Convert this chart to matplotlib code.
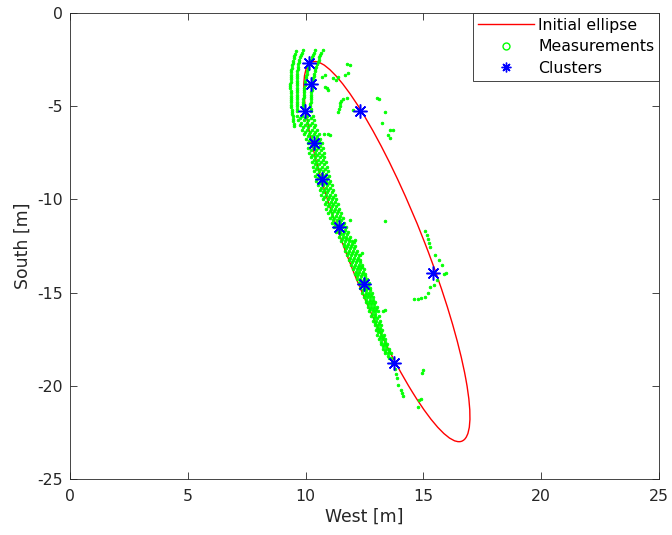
import matplotlib
matplotlib.use("Agg")
import matplotlib.pyplot as plt
from matplotlib.patches import Ellipse
from matplotlib.lines import Line2D

plt.rcParams['font.family'] = ['DejaVu Sans']
plt.rcParams['axes.unicode_minus'] = False

# initial ellipse (center, full axis lengths, rotation in degrees)
ellipse_center = (13.45, -12.8)
ellipse_width = 21.32
ellipse_height = 3.35
ellipse_angle = -72.86

# cluster centres
cluster_x = [10.16, 10.22, 9.97, 10.37, 10.68, 11.42, 12.49, 13.75, 12.31, 15.42]
cluster_y = [-2.67, -3.83, -5.26, -6.95, -8.88, -11.48, -14.55, -18.78, -5.26, -13.93]

# measurements: curved streaks at the top
arc_a = [(9.59, -2.05), (9.56, -2.18), (9.52, -2.30), (9.50, -2.43), (9.47, -2.55),
         (9.45, -2.68), (9.43, -2.80), (9.42, -2.93), (9.40, -3.05), (9.39, -3.18),
         (9.38, -3.30), (9.37, -3.43), (9.36, -3.55), (9.36, -3.68), (9.35, -3.80),
         (9.35, -3.93), (9.35, -4.05), (9.36, -4.18), (9.36, -4.30), (9.37, -4.43),
         (9.37, -4.55), (9.38, -4.68), (9.38, -4.80), (9.39, -4.93), (9.40, -5.05),
         (9.41, -5.18), (9.42, -5.30), (9.44, -5.43), (9.45, -5.55), (9.47, -5.68),
         (9.48, -5.80), (9.50, -5.93), (9.52, -6.05)]
arc_b = [(9.87, -2.00), (9.83, -2.13), (9.80, -2.25), (9.77, -2.38), (9.74, -2.50),
         (9.71, -2.63), (9.69, -2.75), (9.67, -2.88), (9.66, -3.00), (9.65, -3.13),
         (9.64, -3.25), (9.63, -3.38), (9.62, -3.50), (9.62, -3.63), (9.62, -3.75),
         (9.62, -3.88), (9.62, -4.00), (9.62, -4.13), (9.62, -4.25), (9.62, -4.38),
         (9.62, -4.50), (9.63, -4.63), (9.63, -4.75), (9.64, -4.88), (9.64, -5.00),
         (9.65, -5.13), (9.65, -5.25)]
arc_c = [(10.38, -2.00), (10.34, -2.13), (10.30, -2.25), (10.26, -2.38), (10.22, -2.50),
         (10.18, -2.63), (10.15, -2.75), (10.12, -2.88), (10.09, -3.00), (10.06, -3.13),
         (10.04, -3.25), (10.02, -3.38), (10.00, -3.50), (9.98, -3.63), (9.97, -3.75),
         (9.96, -3.88), (9.95, -4.00), (9.94, -4.13), (9.93, -4.25), (9.92, -4.38),
         (9.92, -4.50), (9.91, -4.63), (9.91, -4.75), (9.91, -4.88), (9.91, -5.00),
         (9.92, -5.13), (9.92, -5.25)]
arc_d = [(10.72, -2.00), (10.67, -2.13), (10.62, -2.25), (10.58, -2.38), (10.55, -2.50),
         (10.51, -2.63), (10.48, -2.75), (10.45, -2.88), (10.42, -3.00), (10.40, -3.13),
         (10.37, -3.25), (10.35, -3.38), (10.33, -3.50), (10.31, -3.63), (10.30, -3.75),
         (10.28, -3.88), (10.27, -4.00), (10.26, -4.13), (10.25, -4.25), (10.24, -4.38),
         (10.23, -4.50), (10.22, -4.63), (10.21, -4.75), (10.20, -4.88), (10.20, -5.00),
         (10.21, -5.13), (10.22, -5.25)]

# measurements: main band, one row of x values per y
band_rows = [
    (-5.500, [9.64, 9.86, 10.08, 10.30]),
    (-5.625, [9.76, 9.99, 10.22]),
    (-5.750, [9.69, 9.92, 10.12, 10.36]),
    (-5.875, [9.82, 10.05, 10.28]),
    (-6.000, [9.75, 9.97, 10.18, 10.41]),
    (-6.125, [9.89, 10.11, 10.34]),
    (-6.250, [9.83, 10.05, 10.26, 10.47]),
    (-6.375, [9.99, 10.20, 10.41]),
    (-6.500, [9.94, 10.15, 10.36, 10.56, 10.78, 10.95]),
    (-6.625, [10.09, 10.29, 10.50]),
    (-6.750, [10.03, 10.24, 10.43, 10.63]),
    (-6.875, [10.16, 10.36, 10.56]),
    (-7.000, [10.09, 10.30, 10.49, 10.69]),
    (-7.125, [10.21, 10.41, 10.61]),
    (-7.250, [10.12, 10.34, 10.53, 10.73]),
    (-7.375, [10.25, 10.45, 10.65]),
    (-7.500, [10.16, 10.38, 10.57, 10.77]),
    (-7.625, [10.29, 10.49, 10.69]),
    (-7.750, [10.21, 10.42, 10.60, 10.80]),
    (-7.875, [10.34, 10.53, 10.73]),
    (-8.000, [10.26, 10.46, 10.66, 10.85]),
    (-8.125, [10.38, 10.58, 10.78]),
    (-8.250, [10.30, 10.50, 10.70, 10.90]),
    (-8.375, [10.43, 10.62, 10.82]),
    (-8.500, [10.35, 10.55, 10.75, 10.94]),
    (-8.625, [10.48, 10.68, 10.87]),
    (-8.750, [10.40, 10.60, 10.80, 10.99]),
    (-8.875, [10.53, 10.73, 10.92]),
    (-9.000, [10.46, 10.66, 10.86, 11.05]),
    (-9.125, [10.60, 10.79, 10.98]),
    (-9.250, [10.53, 10.73, 10.91, 11.10]),
    (-9.375, [10.66, 10.85, 11.04]),
    (-9.500, [10.59, 10.79, 10.97, 11.16]),
    (-9.625, [10.73, 10.92, 11.10]),
    (-9.750, [10.66, 10.86, 11.04, 11.23]),
    (-9.875, [10.80, 10.99, 11.17]),
    (-10.000, [10.73, 10.93, 11.11, 11.30]),
    (-10.125, [10.87, 11.06, 11.24]),
    (-10.250, [10.81, 11.00, 11.18, 11.37]),
    (-10.375, [10.94, 11.13, 11.31]),
    (-10.500, [10.88, 11.07, 11.25, 11.43]),
    (-10.625, [11.02, 11.20, 11.38]),
    (-10.750, [10.96, 11.14, 11.32, 11.50]),
    (-10.875, [11.10, 11.28, 11.45]),
    (-11.000, [11.04, 11.22, 11.40, 11.57]),
    (-11.125, [11.18, 11.35, 11.52]),
    (-11.250, [11.13, 11.30, 11.48, 11.64]),
    (-11.375, [11.26, 11.43, 11.60]),
    (-11.500, [11.21, 11.38, 11.56, 11.72]),
    (-11.625, [11.35, 11.51, 11.68]),
    (-11.750, [11.31, 11.48, 11.64, 11.81]),
    (-11.875, [11.44, 11.60, 11.77]),
    (-12.000, [11.40, 11.57, 11.73, 11.90]),
    (-12.125, [11.53, 11.70, 11.86]),
    (-12.250, [11.51, 11.67, 11.83, 11.99]),
    (-12.375, [11.64, 11.80, 11.96]),
    (-12.500, [11.61, 11.77, 11.93, 12.09]),
    (-12.625, [11.73, 11.89, 12.05]),
    (-12.750, [11.69, 11.85, 12.01, 12.17]),
    (-12.875, [11.81, 11.97, 12.13]),
    (-13.000, [11.77, 11.93, 12.09, 12.25]),
    (-13.125, [11.89, 12.05, 12.21]),
    (-13.250, [11.85, 12.01, 12.17, 12.33]),
    (-13.375, [11.97, 12.13, 12.29]),
    (-13.500, [11.93, 12.09, 12.25, 12.41]),
    (-13.625, [12.05, 12.21, 12.36]),
    (-13.750, [12.01, 12.17, 12.32, 12.47]),
    (-13.875, [12.12, 12.28, 12.43]),
    (-14.000, [12.08, 12.24, 12.39, 12.54]),
    (-14.125, [12.20, 12.35, 12.50]),
    (-14.250, [12.17, 12.32, 12.46, 12.61]),
    (-14.375, [12.29, 12.43, 12.58]),
    (-14.500, [12.25, 12.40, 12.54, 12.69]),
    (-14.625, [12.37, 12.51, 12.65]),
    (-14.750, [12.33, 12.48, 12.61, 12.75]),
    (-14.875, [12.44, 12.58, 12.72]),
    (-15.000, [12.40, 12.55, 12.68, 12.82]),
    (-15.125, [12.51, 12.65, 12.78]),
    (-15.250, [12.48, 12.62, 12.75, 12.88]),
    (-15.375, [12.58, 12.72, 12.85]),
    (-15.500, [12.55, 12.69, 12.82, 12.95]),
    (-15.625, [12.66, 12.79, 12.92]),
    (-15.750, [12.63, 12.77, 12.89, 13.01]),
    (-15.875, [12.73, 12.86, 12.98]),
    (-16.000, [12.70, 12.84, 12.96, 13.06]),
    (-16.125, [12.82, 12.94]),
    (-16.250, [12.79, 12.95, 13.11]),
    (-16.375, [12.89, 13.05]),
    (-16.500, [12.86, 13.00, 13.14]),
    (-16.625, [12.96, 13.10]),
    (-16.750, [12.93, 13.06, 13.19]),
    (-16.875, [13.02, 13.16]),
    (-17.000, [12.99, 13.12, 13.25]),
    (-17.125, [13.08, 13.22]),
    (-17.250, [13.05, 13.18, 13.31]),
    (-17.375, [13.15, 13.29]),
    (-17.500, [13.11, 13.25, 13.39]),
    (-17.625, [13.21, 13.36]),
    (-17.750, [13.18, 13.32, 13.46]),
    (-17.875, [13.29, 13.43]),
    (-18.000, [13.28, 13.40, 13.52]),
    (-18.125, [13.38, 13.52]),
    (-18.250, [13.39, 13.50, 13.61]),
    (-18.375, [13.50]),
    (-18.500, [13.53, 13.64]),
    (-18.750, [13.68]),
]
band_tail = [(13.79, -19.10), (13.82, -19.35), (13.88, -19.60), (13.92, -19.95),
             (14.05, -20.25), (14.10, -20.40), (14.14, -20.55)]

# measurements: isolated returns
stray_top = [(10.70, -3.44), (10.82, -3.33), (11.16, -3.49), (11.38, -3.44), (11.30, -3.60),
             (11.67, -3.33), (11.80, -3.22), (11.88, -2.79), (11.76, -2.74), (10.82, -3.97),
             (10.95, -4.14), (10.91, -4.03), (11.59, -4.60), (11.76, -4.56), (11.50, -4.70),
             (11.48, -4.85), (11.44, -5.00), (11.40, -5.15), (11.38, -5.30), (12.01, -5.21),
             (13.03, -4.56), (13.12, -4.62), (13.37, -5.32), (13.24, -5.91), (13.58, -6.28),
             (13.70, -6.28), (13.50, -6.55), (13.58, -6.72), (11.04, -6.55)]
stray_mid = [(11.88, -11.12), (13.37, -11.17), (12.05, -12.30), (12.10, -12.19),
             (12.39, -12.89), (12.31, -13.00), (12.38, -13.60)]
stray_right = [(15.07, -11.70), (15.16, -11.90), (15.20, -12.10), (15.24, -12.32),
               (15.28, -12.55), (15.49, -13.00), (15.66, -13.27), (15.79, -13.53),
               (15.96, -13.96), (15.86, -14.02), (15.58, -14.34), (15.45, -14.58),
               (15.30, -14.72), (15.20, -15.02), (15.07, -15.22), (14.90, -15.30),
               (14.75, -15.33), (14.62, -15.36)]
stray_low = [(13.37, -15.95), (13.28, -16.00), (14.98, -19.17), (14.94, -19.30),
             (14.90, -20.70), (14.80, -20.78), (14.77, -21.16)]

meas = arc_a + arc_b + arc_c + arc_d + band_tail + stray_top + stray_mid + stray_right + stray_low
for y, xs in band_rows:
    meas += [(x, y) for x in xs]
meas_x = [p[0] for p in meas]
meas_y = [p[1] for p in meas]

dark = (0.15, 0.15, 0.15)
green = (0, 1, 0)

fig = plt.figure(figsize=(6.72, 5.35), dpi=100)
ax = fig.add_axes([70 / 672, 1 - 479 / 535, 589 / 672, 466 / 535])

ax.add_patch(Ellipse(ellipse_center, ellipse_width, ellipse_height, angle=ellipse_angle,
                     fill=False, edgecolor=(1, 0, 0), linewidth=1.0, zorder=1))
ax.plot(meas_x, meas_y, linestyle='none', marker='o', markersize=1.9,
        markerfacecolor=green, markeredgecolor=green, markeredgewidth=0.6, zorder=2)
ax.plot(cluster_x, cluster_y, linestyle='none', marker=(8, 2, 0), markersize=10,
        markeredgecolor=(0, 0, 1), markeredgewidth=1.1, zorder=3)

ax.set_xlim(0, 25)
ax.set_ylim(-25, 0)
ax.set_xticks([0, 5, 10, 15, 20, 25])
ax.set_yticks([-25, -20, -15, -10, -5, 0])
ax.tick_params(direction='in', length=5, width=0.6, colors=dark, labelsize=11.3,
               top=True, right=True)
ax.tick_params(axis='x', pad=7)
ax.tick_params(axis='y', pad=5)
for sp in ax.spines.values():
    sp.set_color(dark)
    sp.set_linewidth(0.6)

ax.set_xlabel('West [m]', fontsize=12.4, color=dark, labelpad=3)
ax.set_ylabel('South [m]', fontsize=12.4, color=dark, labelpad=4)

handles = [
    Line2D([], [], color=(1, 0, 0), linewidth=1.0),
    Line2D([], [], linestyle='none', marker='o', markersize=5, markerfacecolor='none',
           markeredgecolor=green, markeredgewidth=1.0),
    Line2D([], [], linestyle='none', marker=(8, 2, 0), markersize=7,
           markeredgecolor=(0, 0, 1), markeredgewidth=1.0),
]
leg = ax.legend(handles, ['Initial ellipse', 'Measurements', 'Clusters'],
                loc='upper right', fontsize=11.3, frameon=True, fancybox=False,
                borderaxespad=0, borderpad=0.3, handlelength=3.6, handletextpad=0.25,
                labelspacing=0.42)
leg.get_frame().set_edgecolor(dark)
leg.get_frame().set_linewidth(0.6)
leg.get_frame().set_alpha(1)

fig.savefig('out.png', dpi=100)
